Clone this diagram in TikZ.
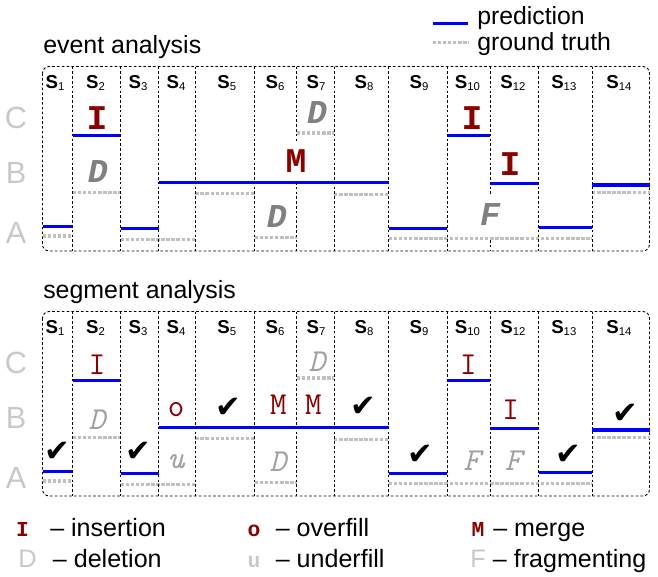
\documentclass[tikz,border=0pt]{standalone}
\usepackage{fontspec}
\setmainfont{Liberation Sans}
\newfontfamily\monofnt{Liberation Mono}
\newfontfamily\symfnt{DejaVu Sans}
\definecolor{predblue}{HTML}{0000FF}
\definecolor{truthgray}{HTML}{C0C0C0}
\definecolor{errred}{HTML}{8B0000}
\definecolor{evgray}{HTML}{808080}
\definecolor{seggray}{HTML}{A0A0A0}
\definecolor{rowgray}{HTML}{C8C8C8}
\newcommand\slab[1]{\textbf{S}\raisebox{-0.2ex}{\fontsize{8.5}{8.5}\selectfont #1}}
\begin{document}
\begin{tikzpicture}[x=0.75pt,y=-0.75pt,
  predline/.style={draw=predblue,line width=2.3pt},
  truthline/.style={draw=truthgray,line width=2.3pt,dash pattern=on 2.6pt off 1.2pt},
  panel/.style={draw=black,line width=0.7pt,dash pattern=on 2pt off 1.6pt,rounded corners=5pt},
  divider/.style={draw=black,line width=0.7pt,dash pattern=on 2pt off 1.6pt},
  title/.style={font=\fontsize{18.7}{20}\selectfont,anchor=base west,inner sep=0pt},
  slabel/.style={font=\fontsize{14}{15}\selectfont,inner sep=0pt},
  rowlab/.style={font=\fontsize{23}{23}\selectfont,text=rowgray,inner sep=0pt},
  evred/.style={font=\monofnt\bfseries\fontsize{26}{26}\selectfont,text=errred,inner sep=0pt},
  evgr/.style={font=\monofnt\bfseries\itshape\fontsize{25}{25}\selectfont,text=evgray,inner sep=0pt},
  sgred/.style={font=\ttfamily\fontsize{24}{24}\selectfont,text=errred,inner sep=0pt},
  sggr/.style={font=\ttfamily\itshape\fontsize{24}{24}\selectfont,text=seggray,inner sep=0pt},
  okmark/.style={font=\symfnt\fontsize{23}{23}\selectfont,inner sep=0pt},
  legtext/.style={font=\fontsize{18.8}{20}\selectfont,anchor=base west,inner sep=0pt},
  keytext/.style={font=\fontsize{18.6}{20}\selectfont,anchor=base west,inner sep=0pt},
  legred/.style={font=\monofnt\bfseries\fontsize{16}{16}\selectfont,text=errred,anchor=base,inner sep=0pt},
  leggray/.style={font=\fontsize{19}{19}\selectfont,text=rowgray,anchor=base,inner sep=0pt},
  legmono/.style={font=\monofnt\bfseries\fontsize{16}{16}\selectfont,text=rowgray,anchor=base,inner sep=0pt}]
\useasboundingbox (0,0) rectangle (658,576);

% key in the upper right corner
\coordinate (kp1) at (432.7,23.3);
\coordinate (kp2) at (468.3,23.3);
\coordinate (kt1) at (432.7,42.7);
\coordinate (kt2) at (468.3,42.7);
\draw[predline] (kp1) -- (kp2);
\draw[truthline] (kt1) -- (kt2);
\node[keytext] (kpred) at (477,24) {prediction};
\node[keytext] (ktruth) at (477,50) {ground truth};

\node[title] (evtitle) at (43,53.3) {event analysis};
\node[title] (sgtitle) at (43,298.3) {segment analysis};

% both panels share the same segments and the same prediction / truth levels
\foreach \dy/\pn in {0/ev,245/sg}{
  \begin{scope}[yshift=-\dy*0.75pt]
    \draw[panel] (42.5,66.5) rectangle (649.5,251);
    \foreach \c/\s in {55/1,95.6/2,138/3,176/4,226.7/5,275/6,316/7,364/8,419/9,467.5/10,513/12,563.8/13,619/14}
      \node[slabel] (\pn s\s) at (\c,83) {\slab{\s}};
    \node[rowlab] (\pn C) at (16,118) {C};
    \node[rowlab] (\pn B) at (16,173) {B};
    \node[rowlab] (\pn A) at (16,233) {A};
    % ground truth
    \draw[truthline] (42.5,236) -- (72.7,236);
    \draw[truthline] (72.7,192.7) -- (120.7,192.7);
    \draw[truthline] (120.7,239.3) -- (195.3,239.3);
    \draw[truthline] (195.3,193.3) -- (254.7,193.3);
    \draw[truthline] (254.7,237.3) -- (296.7,237.3);
    \draw[truthline] (296.7,133) -- (334,133);
    \draw[truthline] (334,194.3) -- (388.7,194.3);
    \draw[truthline] (388.7,238.7) -- (592,238.7);
    \draw[truthline] (592,192.7) -- (649.5,192.7);
    % prediction
    \draw[predline] (42.5,226.7) -- (72.7,226.7);
    \draw[predline] (72.7,135.3) -- (120.7,135.3);
    \draw[predline] (120.7,228.3) -- (158.7,228.3);
    \draw[predline] (158.7,182.3) -- (388.7,182.3);
    \draw[predline] (388.7,228.7) -- (447.3,228.7);
    \draw[predline] (447.3,135.3) -- (490,135.3);
    \draw[predline] (490,183.3) -- (538.7,183.3);
    \draw[predline] (538.7,227.3) -- (592,227.3);
    \draw[predline] (592,185) -- (649.5,185);
  \end{scope}
}

% segment dividers, event panel
\foreach \x in {72.7,120.7,158.7,195.3,254.7,334,388.7,447.3,538.7,592}
  \draw[divider] (\x,66.5) -- (\x,251);
\draw[divider] (296.7,66.5) -- (296.7,141);
\draw[divider] (296.7,182) -- (296.7,251);
\draw[divider] (490,66.5) -- (490,195);
\draw[divider] (490,240) -- (490,251);
% segment dividers, segment panel
\foreach \x in {72.7,120.7,158.7,195.3,254.7,296.7,334,388.7,447.3,490,538.7,592}
  \draw[divider] (\x,311.5) -- (\x,496);

% event analysis errors
\node[evred] (eI2) at (97,118) {I};
\node[evred] (eI10) at (472,118) {I};
\node[evred] (eI12) at (510,164.3) {I};
\node[evred] (eM) at (296,161) {M};
\node[evgr] (eD2) at (98,172) {D};
\node[evgr] (eD6) at (277,216.7) {D};
\node[evgr] (eD7) at (317,113) {D};
\node[evgr] (eF) at (490,215) {F};

% segment analysis results
\node[okmark] (ok1) at (57,451.7) {✔};
\node[okmark] (ok3) at (138.3,451.7) {✔};
\node[okmark] (ok5) at (228.3,408.3) {✔};
\node[okmark] (ok8) at (363.3,406.7) {✔};
\node[okmark] (ok9) at (420,455) {✔};
\node[okmark] (ok13) at (568.3,455) {✔};
\node[okmark] (ok14) at (625,414.3) {✔};
\node[sgred] (sI2) at (97,365) {I};
\node[sgred] (sI10) at (468.3,364.3) {I};
\node[sgred] (sI12) at (510.7,410) {I};
\node[sgred] (sM6) at (278.3,405) {M};
\node[sgred] (sM7) at (313.3,405) {M};
\node[sgred] (so4) at (176,409.3) {o};
\node[sggr] (su4) at (176,461.7) {u};
\node[sggr] (sD2) at (97,420) {D};
\node[sggr] (sD6) at (278,461.7) {D};
\node[sggr] (sD7) at (317,361.7) {D};
\node[sggr] (sF10) at (471.7,460.7) {F};
\node[sggr] (sF12) at (513.3,460.7) {F};

% legend of error types
\node[legred] (lI) at (22.5,536.7) {I};
\node[legtext] (lIt) at (50,536.7) {– insertion};
\node[leggray] (lD) at (27.5,567) {D};
\node[legtext] (lDt) at (52.7,567) {– deletion};
\node[legred] (lo) at (254,536.7) {o};
\node[legtext] (lot) at (275.6,536.7) {– overfill};
\node[legmono] (lu) at (254,567) {u};
\node[legtext] (lut) at (275.6,567) {– underfill};
\node[legred] (lM) at (478,536.7) {M};
\node[legtext] (lMt) at (493,536.7) {– merge};
\node[leggray] (lF) at (478,567) {F};
\node[legtext] (lFt) at (492.7,567) {– fragmenting};
\end{tikzpicture}
\end{document}
